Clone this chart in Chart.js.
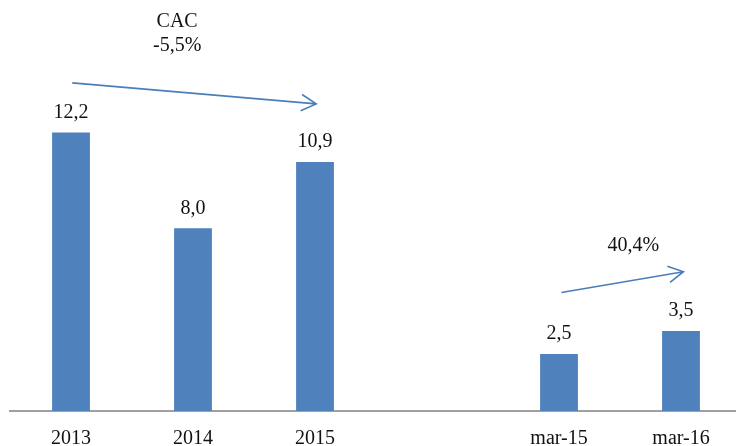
<!DOCTYPE html>
<html>
<head>
<meta charset="utf-8">
<script src="https://cdn.jsdelivr.net/npm/chart.js@4/dist/chart.umd.min.js"></script>
<style>
  html, body { margin: 0; padding: 0; background: #fff; overflow: hidden; }
  #wrap { width: 736px; height: 446px; overflow: hidden; }
</style>
</head>
<body>
<div id="wrap"><canvas id="myChart" width="748" height="459"></canvas></div>
<script>
const categories = ['2013', '2014', '2015', '', 'mar-15', 'mar-16']
const values = [12.2, 8.0, 10.9, null, 2.5, 3.5]
const cacText = ['CAC', '-5,5%']
const monthText = '40,4%'

const fontFam = '"Liberation Serif", "DejaVu Serif", serif'

// labels above bars + growth arrows
const extras = {
    id: 'extras',
    afterDatasetsDraw(chart) {
        const ctx = chart.ctx
        const xs = chart.scales.x
        const ys = chart.scales.y
        ctx.save()
        ctx.fillStyle = '#111'
        ctx.font = '20px ' + fontFam
        ctx.textAlign = 'center'
        ctx.textBaseline = 'bottom'
        chart.getDatasetMeta(0).data.forEach((bar, i) => {
            if (values[i] == null) return
            ctx.fillText(values[i].toFixed(1).replace('.', ','), bar.x, bar.y - 10)
        })

        ctx.textBaseline = 'middle'
        ctx.fillText(cacText[0], xs.getPixelForValue(0.87), ys.getPixelForValue(17.03))
        ctx.fillText(cacText[1], xs.getPixelForValue(0.87), ys.getPixelForValue(15.99))
        ctx.fillText(monthText, xs.getPixelForValue(4.61), ys.getPixelForValue(7.24))

        const arrow = (x1, y1, x2, y2) => {
            const a = Math.atan2(y2 - y1, x2 - x1)
            const len = 17
            ctx.beginPath()
            ctx.moveTo(x1, y1)
            ctx.lineTo(x2, y2)
            ctx.moveTo(x2 - len * Math.cos(a - 0.5), y2 - len * Math.sin(a - 0.5))
            ctx.lineTo(x2, y2)
            ctx.lineTo(x2 - len * Math.cos(a + 0.5), y2 - len * Math.sin(a + 0.5))
            ctx.stroke()
        }
        ctx.strokeStyle = '#4A7EBB'
        ctx.lineWidth = 1.6
        arrow(xs.getPixelForValue(0.01), ys.getPixelForValue(14.37), xs.getPixelForValue(2.01), ys.getPixelForValue(13.45))
        arrow(xs.getPixelForValue(4.02), ys.getPixelForValue(5.19), xs.getPixelForValue(5.02), ys.getPixelForValue(6.1))
        ctx.restore()
    }
}

const myChart = new Chart(document.getElementById('myChart'), {
    type: 'bar',
    data: {
        labels: categories,
        datasets: [{
            data: values,
            backgroundColor: '#4F81BD',
            barPercentage: 0.31,
            categoryPercentage: 1
        }]
    },
    options: {
        responsive: false,
        animation: false,
        layout: { padding: { left: 10, right: 6, top: 0, bottom: 0 } },
        plugins: { legend: { display: false }, tooltip: { enabled: false } },
        scales: {
            x: {
                grid: { display: false },
                border: { display: true, color: '#A0A0A0', width: 2 },
                ticks: { color: '#111', font: { family: fontFam, size: 20 }, padding: 8, maxRotation: 0 }
            },
            y: { display: false, min: 0, max: 18 }
        }
    },
    plugins: [extras]
})
</script>
</body>
</html>
